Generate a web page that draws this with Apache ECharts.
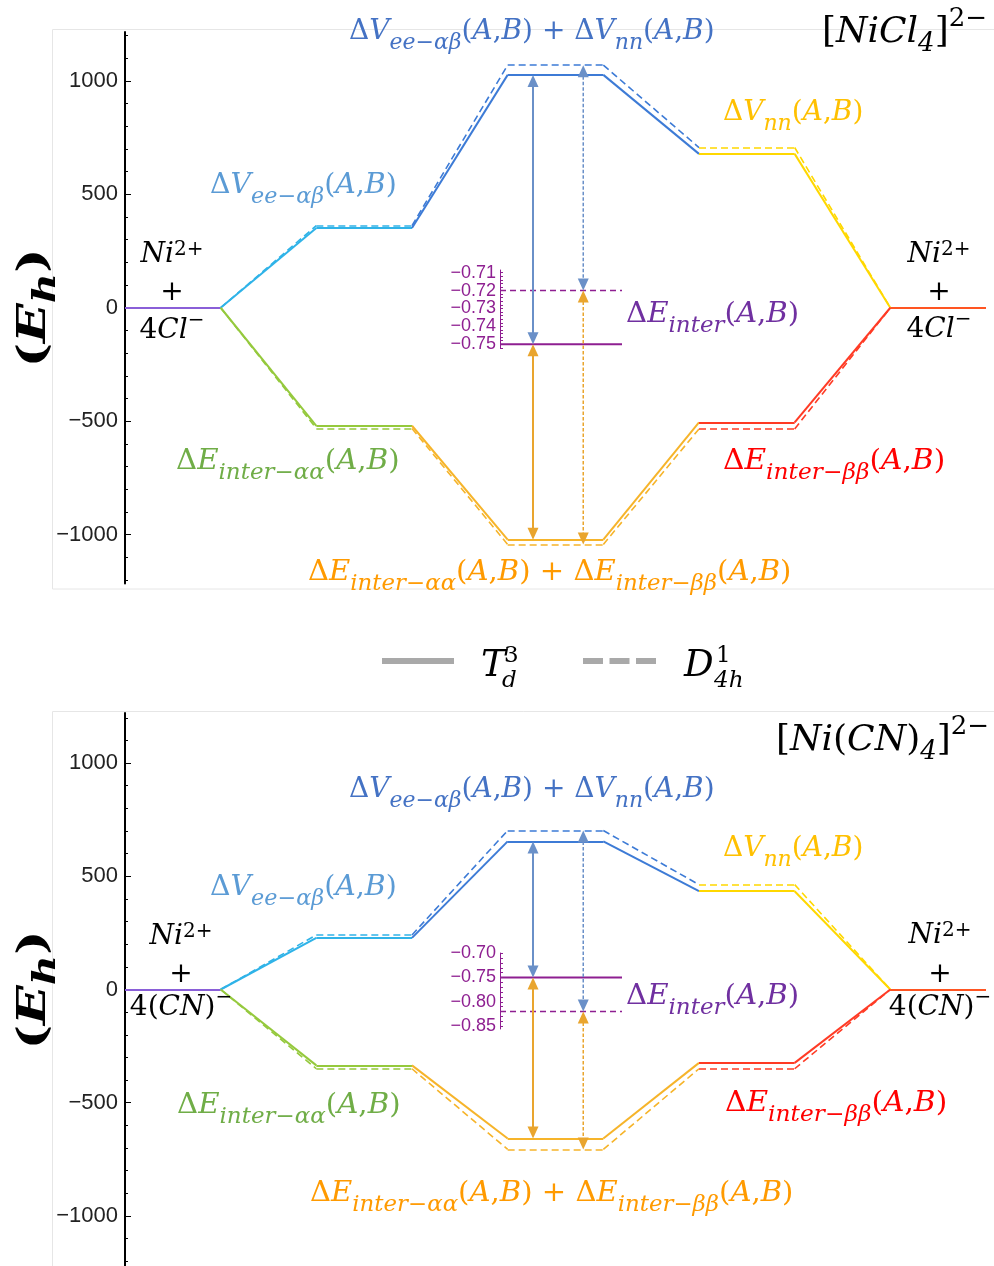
<!DOCTYPE html>
<html><head><meta charset="utf-8">
<script src="https://cdn.jsdelivr.net/npm/echarts@6/dist/echarts.min.js"></script>
<style>html,body{margin:0;padding:0;background:#fff}#c{width:994px;height:1266px}</style>
</head><body><div id="c"></div>
<script>
// ---------------- data ----------------
// vertex x positions of each path (each stage is a flat segment of width 1)
const stageX = [0, 1, 2, 3, 4, 5, 6, 7, 8, 9];
// stage levels: [reactants, Vee / Eaa, Vee+Vnn / Eaa+Ebb, Vnn / Ebb, reactants]  (Eh)
const clTdUpper  = [0, 351, 1026, 678, 0];
const clTdLower  = [0, -520, -1022, -505, 0];
const clD4hUpper = [0, 362, 1069, 706, 0];
const clD4hLower = [0, -532, -1043, -534, 0];
const clInter    = [-0.75, -0.72];      // ΔE_inter : Td, D4h
const cnTdUpper  = [0, 228, 654, 434, 0];
const cnTdLower  = [0, -335, -658, -324, 0];
const cnD4hUpper = [0, 241, 702, 463, 0];
const cnD4hLower = [0, -350, -706, -350, 0];
const cnInter    = [-0.75, -0.82];
const mainTickLabels = [-1000, -500, 0, 500, 1000];
const mainMinorTicks = [-1200,-1100,-1000,-900,-800,-700,-600,-500,-400,-300,-200,-100,0,100,200,300,400,500,600,700,800,900,1000,1100,1200];
const clInsetLabels = [-0.75, -0.74, -0.73, -0.72, -0.71];
const cnInsetLabels = [-0.85, -0.80, -0.75, -0.70];

// ---------------- styles / layout ----------------
const MINUS = '\u2212';
const F = 'DejaVu Serif';
const C = {purple:'#8a5fd8', cyan:'#2fb3e8', blue:'#3d7bd6', yellow:'#ffd800', redorange:'#ff5522',
           green:'#95c93d', orange:'#f6b42a', red:'#ff3b25', inset:'#8e1f91',
           arrowBlue:'#6a90c8', arrowOrange:'#e9a52e'};
const upperColors = [C.purple, C.cyan, C.cyan, C.blue, C.blue, C.blue, C.yellow, C.yellow, C.redorange];
const lowerColors = [null, C.green, C.green, C.orange, C.orange, C.orange, C.red, C.red, null];
const arrowXTd = 4.265, arrowXD4h = 4.79;

function insetMinor(min, max, step) {
  const out = []; const n = Math.round((max - min) / step);
  for (let i = 0; i <= n; i++) out.push(+(min + i * step).toFixed(4));
  return out;
}

const panels = [
  { grid:{left:125, top:32, width:861, height:551.5}, range:1215,
    inset:{left:500, top:270, width:122, height:78, min:-0.7521, max:-0.7085, labels:clInsetLabels,
           minor: insetMinor(-0.752, -0.708, 0.002)},
    td:{upper:clTdUpper, lower:clTdLower, inter:clInter[0]},
    d4h:{upper:clD4hUpper, lower:clD4hLower, inter:clInter[1]} },
  { grid:{left:125, top:713, width:861, height:553}, range:1221,
    inset:{left:500, top:953, width:122, height:76, min:-0.856, max:-0.6995, labels:cnInsetLabels,
           minor: insetMinor(-0.85, -0.70, 0.01)},
    td:{upper:cnTdUpper, lower:cnTdLower, inter:cnInter[0]},
    d4h:{upper:cnD4hUpper, lower:cnD4hLower, inter:cnInter[1]} }
];

function pathSegments(levels, colors) {
  const ys = []; levels.forEach(v => { ys.push(v, v); });
  const segs = [];
  for (let i = 0; i < stageX.length - 1; i++) {
    if (!colors[i]) continue;
    segs.push({coords:[[stageX[i], ys[i]], [stageX[i+1], ys[i+1]]], lineStyle:{color:colors[i]}});
  }
  return segs;
}

const grids = [], xAxes = [], yAxes = [], series = [];
panels.forEach((p, k) => {
  const gMain = 2*k, gIn = 2*k + 1;
  grids.push(Object.assign({containLabel:false}, p.grid));
  grids.push({left:p.inset.left, top:p.inset.top, width:p.inset.width, height:p.inset.height});
  xAxes.push({gridIndex:gMain, type:'value', min:0, max:9, show:false});
  xAxes.push({gridIndex:gIn, type:'value', min:0, max:1, show:false});
  const yMain = yAxes.length;
  yAxes.push({gridIndex:gMain, type:'value', min:-p.range, max:p.range, position:'left',
    splitLine:{show:false},
    axisLine:{show:true, onZero:false, lineStyle:{color:'#000', width:2}},
    axisTick:{show:true, inside:true, length:6, customValues:mainTickLabels, lineStyle:{color:'#000', width:1}},
    axisLabel:{show:true, customValues:mainTickLabels, margin:7, color:'#222', fontSize:22,
               fontFamily:'Liberation Sans', formatter:v => String(v).replace('-', MINUS)}});
  yAxes.push({gridIndex:gMain, type:'value', min:-p.range, max:p.range, position:'left',
    splitLine:{show:false}, axisLine:{show:false}, axisLabel:{show:false},
    axisTick:{show:true, inside:true, length:3, customValues:mainMinorTicks, lineStyle:{color:'#000', width:1}}});
  const yIn = yAxes.length;
  yAxes.push({gridIndex:gIn, type:'value', min:p.inset.min, max:p.inset.max, position:'left',
    splitLine:{show:false},
    axisLine:{show:true, onZero:false, lineStyle:{color:C.inset, width:1}},
    axisTick:{show:true, inside:true, length:3, customValues:p.inset.minor, lineStyle:{color:C.inset, width:1}},
    axisLabel:{show:true, customValues:p.inset.labels, margin:4, color:C.inset, fontSize:18,
               fontFamily:'Liberation Sans', formatter:v => v.toFixed(2).replace('-', MINUS)}});
  p.yMain = yMain; p.yIn = yIn; p.xMain = gMain; p.xIn = gIn;

  // dashed (D4h) paths
  series.push({type:'lines', coordinateSystem:'cartesian2d', xAxisIndex:gMain, yAxisIndex:yMain,
    polyline:false, silent:true, z:2,
    lineStyle:{width:1.6, type:[7,4], opacity:1},
    data: pathSegments(p.d4h.upper, upperColors).concat(pathSegments(p.d4h.lower, lowerColors))});
  // solid (Td) paths
  series.push({type:'lines', coordinateSystem:'cartesian2d', xAxisIndex:gMain, yAxisIndex:yMain,
    polyline:false, silent:true, z:3,
    lineStyle:{width:2, type:'solid', opacity:1},
    data: pathSegments(p.td.upper, upperColors).concat(pathSegments(p.td.lower, lowerColors))});
  // inset ΔE_inter levels
  series.push({type:'line', xAxisIndex:gIn, yAxisIndex:yIn, symbol:'none', silent:true, z:4,
    lineStyle:{color:C.inset, width:2, type:'solid'}, data:[[0, p.td.inter], [1, p.td.inter]]});
  series.push({type:'line', xAxisIndex:gIn, yAxisIndex:yIn, symbol:'none', silent:true, z:4,
    lineStyle:{color:C.inset, width:1.6, type:[6,4]}, data:[[0, p.d4h.inter], [1, p.d4h.inter]]});
});

const chart = echarts.init(document.getElementById('c'), null, {renderer:'canvas'});
chart.setOption({animation:false, backgroundColor:'#fff', grid:grids, xAxis:xAxes, yAxis:yAxes, series});

// ---------------- annotations ----------------
function mathText(x, y, text, color, size, opts) {
  opts = opts || {};
  const sub = Math.round(size * (opts.subScale || 0.78));
  const w = opts.bold ? 'bold' : 'normal';
  return {type:'text', x, y, rotation:opts.rotation || 0, scaleX:opts.scaleX || 1, z:100,
    style:{text, align:opts.align || 'left', verticalAlign:'middle',
      rich:{
        i:{fontFamily:F, fontStyle:'italic', fontWeight:w, fontSize:size, fill:color},
        u:{fontFamily:F, fontWeight:w, fontSize:size, fill:color},
        s:{fontFamily:F, fontStyle:'italic', fontWeight:w, fontSize:sub, fill:color,
           padding:[opts.subPad != null ? opts.subPad : Math.round(size*0.8), 0, 0, 0]},
        p:{fontFamily:F, fontWeight:w, fontSize:sub, fill:color,
           padding:[0, 0, opts.supPad != null ? opts.supPad : Math.round(size*0.36), 0]}
      }}};
}
const AB = '{u|(}{i|A}{u|,}{i|B}{u|)}';
const VEE = '{u|Δ}{i|V}{s|ee−αβ}' + AB;
const VNN = '{u|Δ}{i|V}{s|nn}' + AB;
const EAA = '{u|Δ}{i|E}{s|inter−αα}' + AB;
const EBB = '{u|Δ}{i|E}{s|inter−ββ}' + AB;
const EINT = '{u|Δ}{i|E}{s|inter}' + AB;
const PLUS = '{u| + }';
const NI = '{i|Ni}{p|2+}';
const CL = '{u|4}{i|Cl}{p|−}';
const CN = '{u|4(}{i|CN}{u|)}{p|−}';
const T1 = '{u|[}{i|NiCl}{s|4}{u|]}{p|2−}';
const T2 = '{u|[}{i|Ni}{u|(}{i|CN}{u|)}{s|4}{u|]}{p|2−}';

const labelColors = {vee:'#5b9bd5', vsum:'#4472c4', vnn:'#ffc000', eaa:'#70ad47', ebb:'#ff0000', eint:'#7030a0', esum:'#ff9a00'};
const S = 28;
const SX_E = 1.045;
const panelText = [
  {vee:[210,186], vsum:[349,32], vnn:[723,113], eint:[626,315], eaa:[176,462], ebb:[723,462], esum:[308,573],
   title:[822,33], tstr:T1, lig:CL, left:[172,255,293,331], right:[939,255,293,330], yname:[35,308]},
  {vee:[210,888], vsum:[349,790], vnn:[723,849], eint:[626,997], eaa:[177,1106], ebb:[725,1104], esum:[310,1194],
   title:[776,741], tstr:T2, lig:CN, left:[181,937,975,1008], right:[940,936,975,1008], yname:[35,990]}
];

const graphics = [];
// light frames around each panel
graphics.push({type:'rect', shape:{x:52.5, y:29.5, width:960, height:559.5}, style:{fill:null, stroke:'#e6e6e6', lineWidth:1}, z:0});
graphics.push({type:'rect', shape:{x:52.5, y:711.5, width:960, height:600}, style:{fill:null, stroke:'#e6e6e6', lineWidth:1}, z:0});

panelText.forEach(t => {
  graphics.push(mathText(t.vee[0], t.vee[1], VEE, labelColors.vee, S, {scaleX:1.015}));
  graphics.push(mathText(t.vsum[0], t.vsum[1], VEE + PLUS + VNN, labelColors.vsum, S));
  graphics.push(mathText(t.vnn[0], t.vnn[1], VNN, labelColors.vnn, S));
  graphics.push(mathText(t.eint[0], t.eint[1], EINT, labelColors.eint, S, {scaleX:SX_E}));
  graphics.push(mathText(t.eaa[0], t.eaa[1], EAA, labelColors.eaa, S, {scaleX:SX_E}));
  graphics.push(mathText(t.ebb[0], t.ebb[1], EBB, labelColors.ebb, S, {scaleX:1.06}));
  graphics.push(mathText(t.esum[0], t.esum[1], EAA + PLUS + EBB, labelColors.esum, S, {scaleX:1.04}));
  graphics.push(mathText(t.title[0], t.title[1], t.tstr, '#000', 36, {subScale:0.72, supPad:28, subPad:22}));
  [t.left, t.right].forEach(L => {
    graphics.push(mathText(L[0], L[1], NI, '#000', S, {align:'center', supPad:10, subScale:0.72}));
    graphics.push(mathText(L[0], L[2], '{u|+}', '#000', S, {align:'center'}));
    graphics.push(mathText(L[0], L[3], t.lig, '#000', S, {align:'center', supPad:20, subScale:0.72}));
  });
  graphics.push(mathText(t.yname[0], t.yname[1], '{u|(}{i|E}{s|h}{u|)}', '#000', 40,
    {align:'center', rotation:Math.PI/2, bold:true, subScale:0.8, subPad:24, scaleX:1.3}));
});

// legend
graphics.push({type:'line', shape:{x1:382, y1:661, x2:454, y2:661}, style:{stroke:'#a9a9a9', lineWidth:6}});
graphics.push({type:'line', shape:{x1:583, y1:661, x2:656, y2:661}, style:{stroke:'#a9a9a9', lineWidth:6, lineDash:[20,6.5]}});
function legendSym(x, main, sup, sub, supX) {
  graphics.push({type:'text', x, y:666, style:{text:main, fontFamily:F, fontStyle:'italic', fontSize:37, fill:'#000', align:'left', verticalAlign:'middle'}});
  graphics.push({type:'text', x:supX, y:656, style:{text:sup, fontFamily:F, fontSize:23, fill:'#000', align:'left', verticalAlign:'middle'}});
  graphics.push({type:'text', x:supX - 2, y:681, style:{text:sub, fontFamily:F, fontStyle:'italic', fontSize:23, fill:'#000', align:'left', verticalAlign:'middle'}});
}
legendSym(481, 'T', '3', 'd', 504);
legendSym(684, 'D', '1', '4h', 716);

// arrows between the combined levels and ΔE_inter (positions through the axes)
function arrow(x, yTop, yBot, color, dashed) {
  const h = 12, w = 5.5;
  graphics.push({type:'line', z:50, shape:{x1:x, y1:yTop + h - 1, x2:x, y2:yBot - h + 1},
    style:{stroke:color, lineWidth:dashed ? 1.5 : 2, lineDash:dashed ? [3.5, 2] : null}});
  graphics.push({type:'polygon', z:51, shape:{points:[[x, yTop], [x - w, yTop + h], [x + w, yTop + h]]}, style:{fill:color}});
  graphics.push({type:'polygon', z:51, shape:{points:[[x, yBot], [x - w, yBot - h], [x + w, yBot - h]]}, style:{fill:color}});
}
panels.forEach(p => {
  [[p.td, arrowXTd, false], [p.d4h, arrowXD4h, true]].forEach(([g, ax, dashed]) => {
    const top = chart.convertToPixel({xAxisIndex:p.xMain, yAxisIndex:p.yMain}, [ax, g.upper[2]]);
    const bot = chart.convertToPixel({xAxisIndex:p.xMain, yAxisIndex:p.yMain}, [ax, g.lower[2]]);
    const mid = chart.convertToPixel({xAxisIndex:p.xIn, yAxisIndex:p.yIn}, [0, g.inter]);
    arrow(top[0], top[1], mid[1], C.arrowBlue, dashed);
    arrow(top[0], mid[1], bot[1], C.arrowOrange, dashed);
  });
});

chart.setOption({graphic:graphics});
</script></body></html>
